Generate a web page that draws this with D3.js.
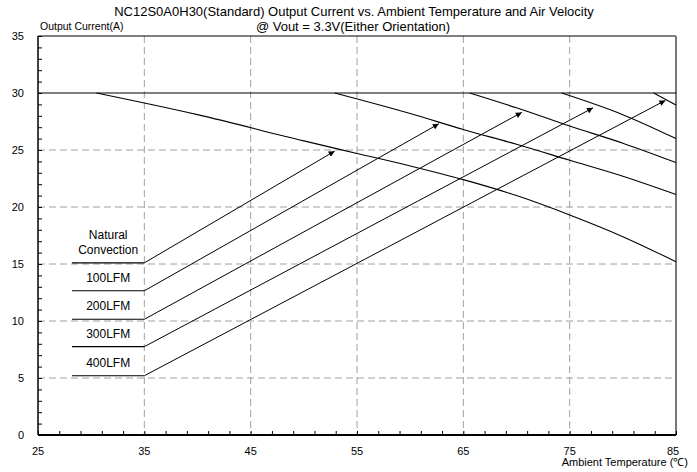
<!DOCTYPE html>
<html>
<head>
<meta charset="utf-8">
<script src="https://cdn.jsdelivr.net/npm/d3@7"></script>
<style>
  body { margin: 0; background: #fff; }
  text { font-family: "Liberation Sans", Arial, sans-serif; fill: #000; }
</style>
</head>
<body>
<script>
// DATA
// derating curves: [ambient temperature, output current]
var natural = [[30.5, 30], [40, 28.1], [50, 25.8], [55, 24.7], [60, 23.6], [65, 22.4], [70, 21.0], [75, 19.3], [80, 17.4], [85, 15.2]];
var lfm100 = [[52.9, 30], [60, 28.2], [65, 26.8], [70, 25.5], [75, 24.1], [80, 22.7], [85, 21.1]];
var lfm200 = [[65.6, 30], [70, 28.7], [75, 27.1], [80, 25.6], [85, 23.9]];
var lfm300 = [[74.25, 30], [80, 28.1], [85, 26.0]];
var lfm400 = [[82.9, 30], [85, 28.95]];

// labels and where their arrows point
var labelNames = [["Natural", "Convection"], ["100LFM"], ["200LFM"], ["300LFM"], ["400LFM"]];
var labelLevels = [15.1, 12.65, 10.15, 7.75, 5.2];
var arrowTips = [[52.9, 24.9], [62.7, 27.3], [70.5, 28.3], [77.2, 28.7], [84.0, 29.35]];

var maxCurrent = 30;
var xTicks = [25, 35, 45, 55, 65, 75, 85];
var yTicks = [0, 5, 10, 15, 20, 25, 30, 35];

// D3
var svg = d3.select("body").append("svg")
    .attr("width", 697)
    .attr("height", 472);

const margin = {top: 36, right: 21, bottom: 37, left: 38};
const width = 697 - margin.left - margin.right;
const height = 472 - margin.top - margin.bottom;

const x = d3.scaleLinear().domain([25, 85]).range([0, width]);
const y = d3.scaleLinear().domain([0, 35]).range([height, 0]);

svg.append("defs").append("marker")
    .attr("id", "arrow")
    .attr("viewBox", "0 0 10 10")
    .attr("refX", 10).attr("refY", 5)
    .attr("markerWidth", 8).attr("markerHeight", 6)
    .attr("markerUnits", "userSpaceOnUse")
    .attr("orient", "auto")
    .append("path").attr("d", "M0,0L10,5L0,10z").attr("fill", "#000");

const g = svg.append("g")
    .attr("transform", "translate(" + margin.left + "," + margin.top + ")");

// grid
g.selectAll(".vgrid").data(xTicks.slice(1, -1)).enter().append("line")
    .attr("x1", d => x(d)).attr("x2", d => x(d))
    .attr("y1", 0).attr("y2", height)
    .attr("stroke", "#a0a0a0").attr("stroke-dasharray", "7,4");
g.selectAll(".hgrid").data([5, 10, 15, 20, 25]).enter().append("line")
    .attr("x1", 0).attr("x2", width)
    .attr("y1", d => y(d)).attr("y2", d => y(d))
    .attr("stroke", "#a0a0a0").attr("stroke-dasharray", "7,4");

// frame
g.append("line").attr("x1", 0).attr("x2", width).attr("y1", 0).attr("y2", 0)
    .attr("stroke", "#000").attr("stroke-width", 1.2);
g.append("line").attr("x1", width).attr("x2", width).attr("y1", 0).attr("y2", height)
    .attr("stroke", "#777").attr("stroke-width", 2);

// axes with inside ticks
const yAxis = g.append("g")
    .call(d3.axisLeft(y).tickValues(d3.range(0, 36, 1)).tickSize(-4).tickFormat(""));
yAxis.select(".domain").attr("d", "M0," + height + "V0").attr("stroke-width", 1.5);
g.selectAll(".ylab").data(yTicks).enter().append("text")
    .attr("x", -14).attr("y", d => y(d) + 4)
    .attr("text-anchor", "end").attr("font-size", 11)
    .text(d => d);

const xAxis = g.append("g").attr("transform", "translate(0," + height + ")")
    .call(d3.axisBottom(x).tickValues(d3.range(25, 86, 2)).tickSize(-4).tickFormat(""));
xAxis.select(".domain").attr("d", "M0,0H" + width).attr("stroke-width", 2);
g.selectAll(".xlab").data(xTicks).enter().append("text")
    .attr("x", d => x(d) - (d === 85 ? 3 : 0)).attr("y", height + 20)
    .attr("text-anchor", "middle").attr("font-size", 11)
    .text(d => d);

// max current line
g.append("line")
    .attr("x1", x(25)).attr("x2", x(85))
    .attr("y1", y(maxCurrent)).attr("y2", y(maxCurrent))
    .attr("stroke", "#000").attr("stroke-width", 1.2);

// derating curves
const line = d3.line().x(d => x(d[0])).y(d => y(d[1])).curve(d3.curveMonotoneX);
g.selectAll(".curve").data([natural, lfm100, lfm200, lfm300, lfm400]).enter().append("path")
    .attr("d", line).attr("fill", "none")
    .attr("stroke", "#000").attr("stroke-width", 1.1);

// label underlines and arrows
labelLevels.forEach(function(lv, i) {
    g.append("line")
        .attr("x1", x(28.2)).attr("x2", x(35))
        .attr("y1", y(lv)).attr("y2", y(lv))
        .attr("stroke", "#000").attr("stroke-width", 1.1);
    g.append("line")
        .attr("x1", x(35)).attr("y1", y(lv))
        .attr("x2", x(arrowTips[i][0])).attr("y2", y(arrowTips[i][1]))
        .attr("stroke", "#000").attr("stroke-width", 1)
        .attr("marker-end", "url(#arrow)");
    const t = g.append("text")
        .attr("x", x(31.6)).attr("text-anchor", "middle").attr("font-size", 12);
    const lines = labelNames[i];
    lines.forEach(function(s, j) {
        t.append("tspan").attr("x", x(31.6))
            .attr("y", y(lv) - 9 - (lines.length - 1 - j) * 15)
            .text(s);
    });
});

// titles
svg.append("text").attr("x", 354).attr("y", 16).attr("text-anchor", "middle")
    .attr("font-size", 13).text("NC12S0A0H30(Standard) Output Current vs. Ambient Temperature and Air Velocity");
svg.append("text").attr("x", 353).attr("y", 31).attr("text-anchor", "middle")
    .attr("font-size", 13).text("@ Vout = 3.3V(Either Orientation)");
svg.append("text").attr("x", 40).attr("y", 30)
    .attr("font-size", 10.5).text("Output Current(A)");
svg.append("text").attr("x", 688).attr("y", 466).attr("text-anchor", "end")
    .attr("font-size", 11).text("Ambient Temperature (℃)");
</script>
</body>
</html>
